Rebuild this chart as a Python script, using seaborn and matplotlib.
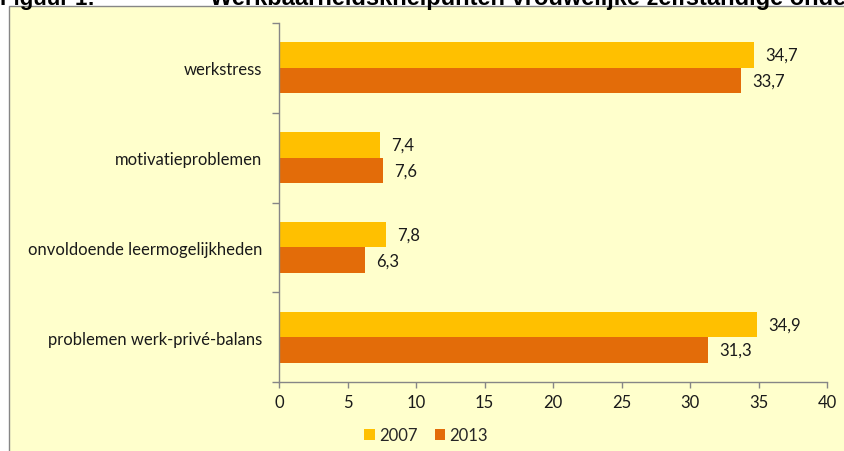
import matplotlib
matplotlib.use("Agg")
import matplotlib.pyplot as plt
from matplotlib.patches import Rectangle
import seaborn as sns
import pandas as pd

categories = ["werkstress", "motivatieproblemen", "onvoldoende leermogelijkheden", "problemen werk-privé-balans"]
years = ["2007", "2013"]
values_2007 = [34.7, 7.4, 7.8, 34.9]
values_2013 = [33.7, 7.6, 6.3, 31.3]
x_ticks = [0, 5, 10, 15, 20, 25, 30, 35, 40]
title_num = "Figuur 1:"
title = "Werkbaarheidsknelpunten vrouwelijke zelfstandige ondernemers"

colors = ["#FFC000", "#E36C09"]
bg = "#FFFFCC"
grey = "#868686"
fs = 12

df = pd.DataFrame({
    "categorie": categories * 2,
    "jaar": [years[0]] * len(categories) + [years[1]] * len(categories),
    "waarde": values_2007 + values_2013,
})

sns.set_theme(style="white")
plt.rcParams["font.family"] = ["Lato", "DejaVu Sans"]

W, H = 844, 452
fig = plt.figure(figsize=(W / 100, H / 100), dpi=100)
fig.patch.set_facecolor("white")
fig.patches.append(Rectangle((9 / W, -0.1), 1.0, 1 - 7 / H + 0.1, transform=fig.transFigure,
                             facecolor=bg, edgecolor=grey, linewidth=1.0, zorder=-5))
tfam = ["Liberation Sans", "DejaVu Sans"]
fig.text(0.0, 1 - 5 / H, title_num, fontsize=16, fontweight="bold", family=tfam,
         ha="left", va="baseline", color="black")
fig.text(210 / W, 1 - 5 / H, title, fontsize=17, fontweight="bold", family=tfam,
         ha="left", va="baseline", color="black")

ax = fig.add_axes([279 / W, 1 - 383 / H, (827 - 279) / W, (383 - 24) / H])
ax.set_facecolor("none")

sns.barplot(data=df, y="categorie", x="waarde", hue="jaar", orient="h", order=categories,
            hue_order=years, palette=colors, width=0.57, saturation=1, ax=ax, legend=True,
            linewidth=0)

for cont in ax.containers:
    labels = [f"{b.get_width():.1f}".replace(".", ",") for b in cont]
    ax.bar_label(cont, labels=labels, padding=8, fontsize=fs, color="#1a1a1a")

ax.set_xlim(0, 40)
ax.set_xticks(x_ticks)
ax.set_ylim(len(categories) - 0.5, -0.5)
ax.set_yticks(range(len(categories)))
ax.set_yticklabels(categories)
ax.set_yticks([i - 0.5 for i in range(len(categories) + 1)], minor=True)
ax.tick_params(axis="y", which="major", length=0, pad=12, labelsize=fs, labelcolor="#1a1a1a")
ax.tick_params(axis="y", which="minor", length=5, width=1, color=grey, direction="out", left=True)
ax.tick_params(axis="x", which="major", length=4, width=1, color=grey, direction="out", bottom=True,
               pad=5, labelsize=fs, labelcolor="#1a1a1a")
ax.set_xlabel("")
ax.set_ylabel("")
for s in ["top", "right"]:
    ax.spines[s].set_visible(False)
for s in ["left", "bottom"]:
    ax.spines[s].set_color(grey)
    ax.spines[s].set_linewidth(1)

handles, labs = ax.get_legend_handles_labels()
ax.legend_.remove()
fig.legend(handles, labs, loc="center", bbox_to_anchor=(0.505, 1 - 436 / H), ncol=2, frameon=False,
           handlelength=0.65, handleheight=0.65, handletextpad=0.25, columnspacing=1.0, fontsize=fs)

fig.savefig("out.png", dpi=100, facecolor=fig.get_facecolor())
